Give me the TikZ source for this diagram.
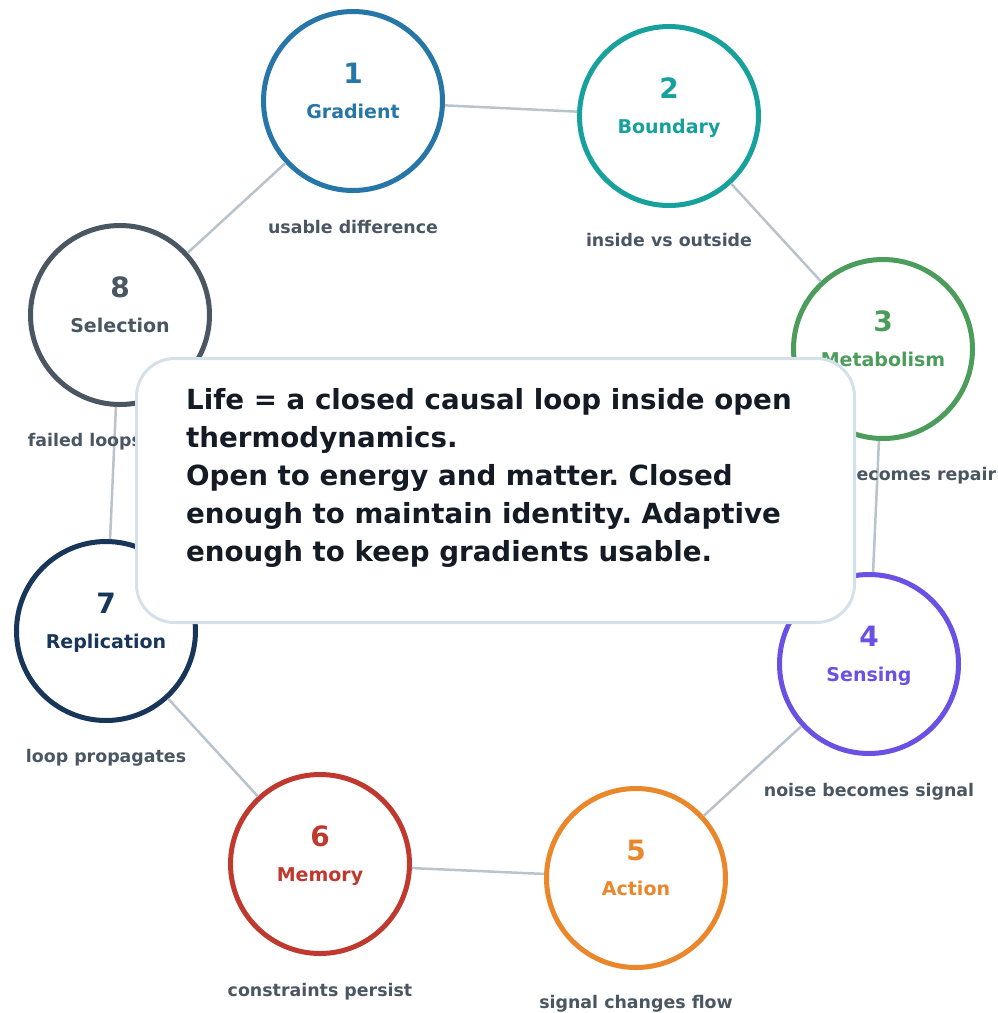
\documentclass[tikz,border=0pt]{standalone}
\usepackage{fontspec}
\setmainfont{DejaVu Sans}
\usetikzlibrary{positioning}
\frenchspacing

\definecolor{cGradient}{HTML}{2776A8}
\definecolor{cBoundary}{HTML}{17A19C}
\definecolor{cMetabolism}{HTML}{4C9D5B}
\definecolor{cSensing}{HTML}{6B50E4}
\definecolor{cAction}{HTML}{EA872B}
\definecolor{cMemory}{HTML}{C0392F}
\definecolor{cReplication}{HTML}{18355A}
\definecolor{cSelection}{HTML}{4A5661}
\definecolor{notegray}{HTML}{4B5663}
\definecolor{linkgray}{HTML}{B8C3CC}
\definecolor{cardline}{HTML}{D5E1EA}
\definecolor{msgtext}{HTML}{141B24}

\begin{document}
\begin{tikzpicture}[x=1pt,y=-1pt,
    stage/.style={circle, draw=#1, line width=5pt, fill=white, minimum size=179pt, inner sep=0pt},
    num/.style={anchor=base, text=#1, font=\fontsize{28}{30}\selectfont\bfseries},
    title/.style={anchor=base, text=#1, font=\fontsize{19}{22}\selectfont\bfseries},
    note/.style={anchor=base, text=notegray, font=\fontsize{17.4}{20}\selectfont\bfseries},
    link/.style={draw=linkgray, line width=2.5pt},
    card/.style={draw=cardline, line width=3pt, fill=white, rounded corners=38pt, minimum width=718pt, minimum height=264pt},
    msg/.style={anchor=north west, inner sep=0pt, align=left, text=msgtext, font=\fontsize{27.7}{38}\selectfont\bfseries}]

    \useasboundingbox (0,0) rectangle (997,1013);

    % the eight stages
    \node[stage=cGradient]    (s1) at (353,101) {};
    \node[stage=cBoundary]    (s2) at (669,116) {};
    \node[stage=cMetabolism]  (s3) at (883,349) {};
    \node[stage=cSensing]     (s4) at (869,664) {};
    \node[stage=cAction]      (s5) at (636,878) {};
    \node[stage=cMemory]      (s6) at (320,864) {};
    \node[stage=cReplication] (s7) at (106,631) {};
    \node[stage=cSelection]   (s8) at (120,315) {};

    % the loop
    \draw[link] (s1) -- (s2);
    \draw[link] (s2) -- (s3);
    \draw[link] (s3) -- (s4);
    \draw[link] (s4) -- (s5);
    \draw[link] (s5) -- (s6);
    \draw[link] (s6) -- (s7);
    \draw[link] (s7) -- (s8);
    \draw[link] (s8) -- (s1);

    % numbers and titles
    \node[num=cGradient]    (n1) at ([yshift=18pt]s1.center) {1};
    \node[title=cGradient]  (t1) at ([yshift=-17pt]s1.center) {Gradient};
    \node[num=cBoundary]    (n2) at ([yshift=18pt]s2.center) {2};
    \node[title=cBoundary]  (t2) at ([yshift=-17pt]s2.center) {Boundary};
    \node[num=cMetabolism]  (n3) at ([yshift=18pt]s3.center) {3};
    \node[title=cMetabolism] (t3) at ([yshift=-17pt]s3.center) {Metabolism};
    \node[num=cSensing]     (n4) at ([yshift=18pt]s4.center) {4};
    \node[title=cSensing]   (t4) at ([yshift=-17pt]s4.center) {Sensing};
    \node[num=cAction]      (n5) at ([yshift=18pt]s5.center) {5};
    \node[title=cAction]    (t5) at ([yshift=-17pt]s5.center) {Action};
    \node[num=cMemory]      (n6) at ([yshift=18pt]s6.center) {6};
    \node[title=cMemory]    (t6) at ([yshift=-17pt]s6.center) {Memory};
    \node[num=cReplication] (n7) at ([yshift=18pt]s7.center) {7};
    \node[title=cReplication] (t7) at ([yshift=-17pt]s7.center) {Replication};
    \node[num=cSelection]   (n8) at ([yshift=18pt]s8.center) {8};
    \node[title=cSelection] (t8) at ([yshift=-17pt]s8.center) {Selection};

    % notes under the stages
    \node[note] (d1) at ([yshift=-132pt]s1.center) {usable difference};
    \node[note] (d2) at ([yshift=-130pt]s2.center) {inside vs outside};
    \node[note] (d3) at ([yshift=-131pt]s3.center) {energy becomes repair};
    \node[note] (d4) at ([yshift=-132pt]s4.center) {noise becomes signal};
    \node[note] (d5) at ([yshift=-130pt]s5.center) {signal changes flow};
    \node[note] (d6) at ([yshift=-132pt]s6.center) {constraints persist};
    \node[note] (d7) at ([yshift=-131pt]s7.center) {loop propagates};
    \node[note] (d8) at ([yshift=-131pt]s8.center) {failed loops vanish};

    % the summary card
    \node[card] (card) at (495.5,490.5) {};
    \node[msg] (msg) at (186,388) {Life = a closed causal loop inside open\\thermodynamics.\\Open to energy and matter. Closed\\enough to maintain identity. Adaptive\\enough to keep gradients usable.};

\end{tikzpicture}
\end{document}
